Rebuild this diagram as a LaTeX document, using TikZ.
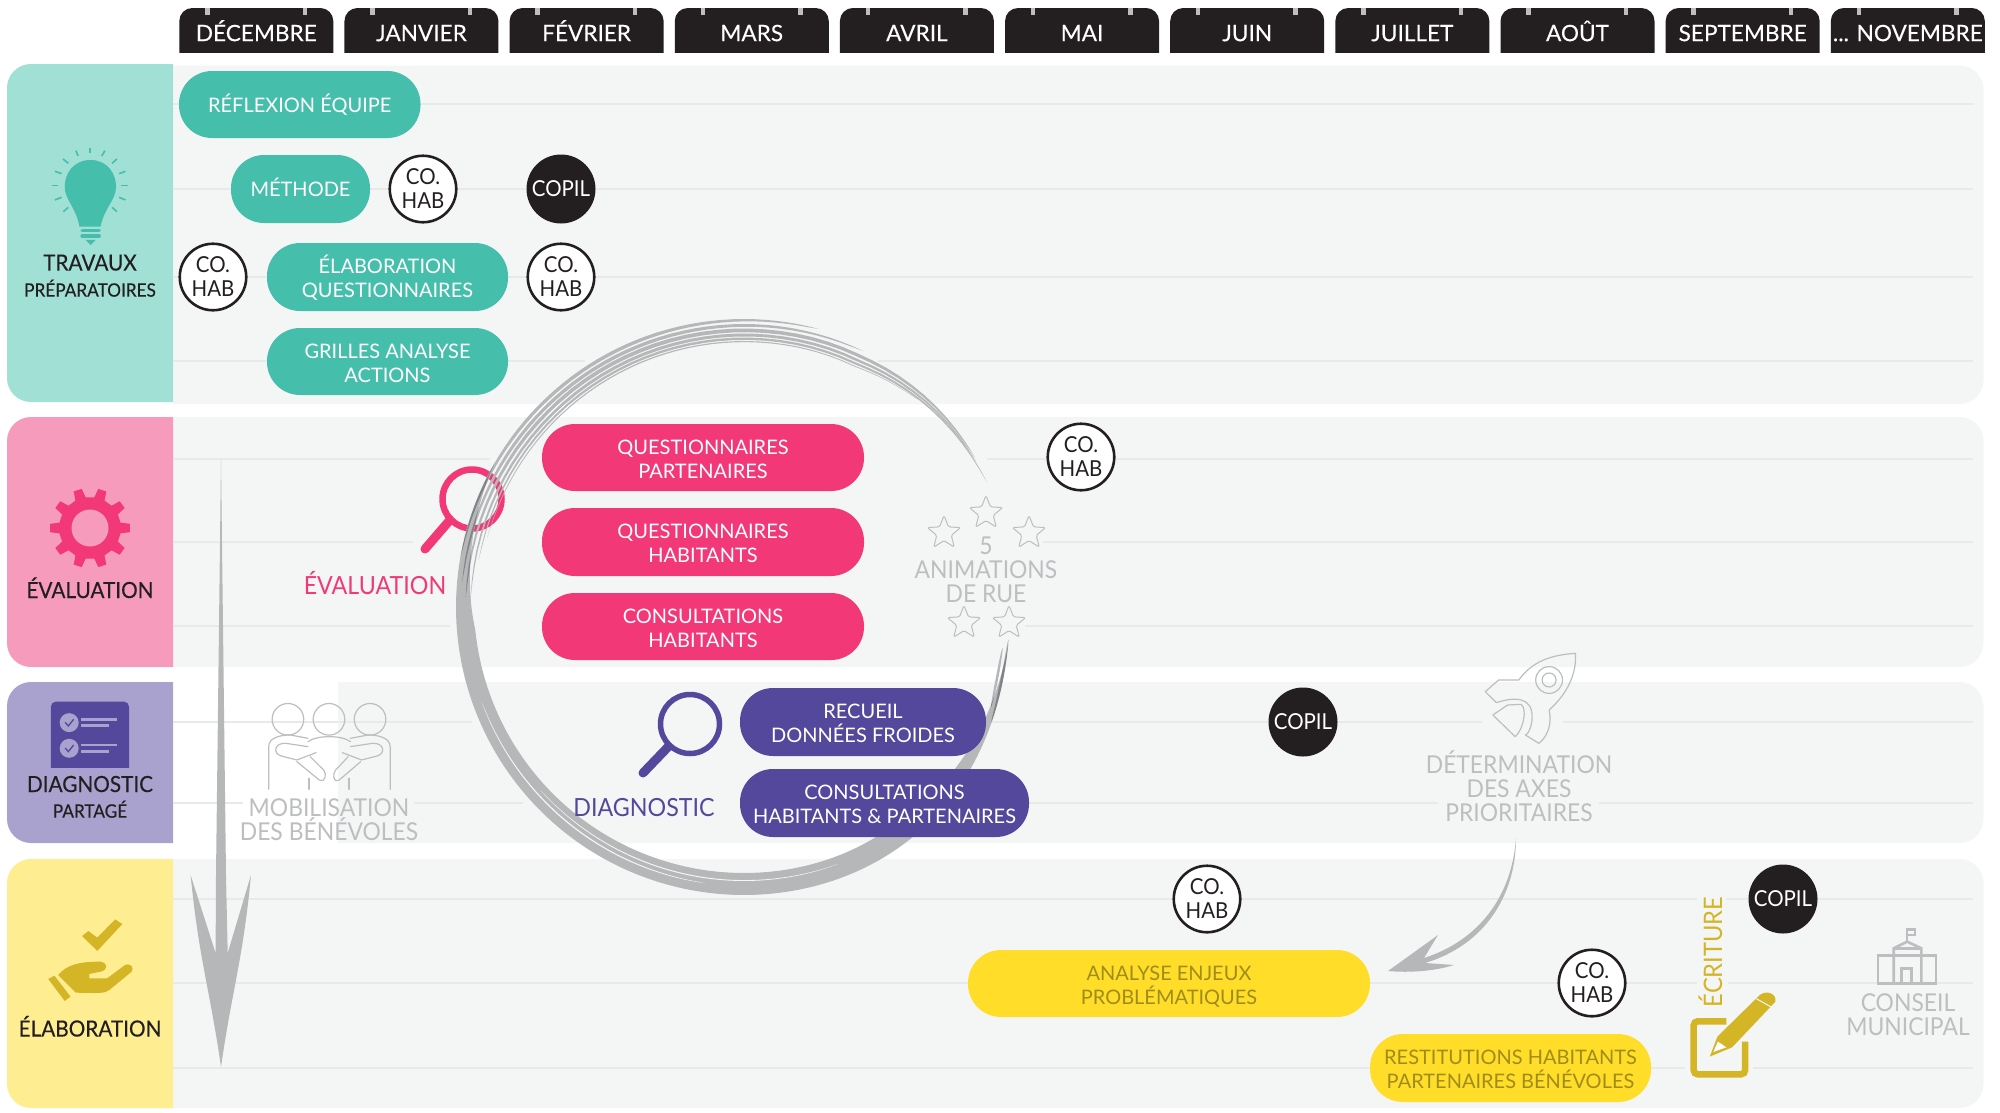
\documentclass[tikz,border=0pt]{standalone}
\usepackage{fontspec}
\setmainfont{Lato}
\newfontfamily\narrowf[FakeStretch=0.93]{Lato}
\newfontfamily\narrowb[FakeStretch=0.93,FakeBold=0.25]{Lato}
\newfontfamily\medf[FakeBold=0.2]{Lato}
\usetikzlibrary{shapes.geometric}
\definecolor{ink}{HTML}{231F20}
\definecolor{lane}{HTML}{F4F6F5}
\definecolor{rule}{HTML}{E8EAE9}
\definecolor{tealD}{HTML}{45BEAC}
\definecolor{tealL}{HTML}{A1E0D5}
\definecolor{pinkD}{HTML}{F23877}
\definecolor{pinkL}{HTML}{F69BBB}
\definecolor{purpD}{HTML}{54489D}
\definecolor{purpL}{HTML}{A9A2CE}
\definecolor{yelD}{HTML}{FFDD29}
\definecolor{yelL}{HTML}{FFED91}
\definecolor{gold}{HTML}{D4B526}
\definecolor{olive}{HTML}{A08C1C}
\definecolor{brush}{HTML}{B6B7B9}
\definecolor{ghost}{HTML}{BDBEC0}
\newcommand{\lastmonth}{... NOVEMBRE}
\tikzset{
  declare function={Rf(\t)=288-22*max(0,cos(\t))^4;},
  fs/.style n args={2}{font=\fontsize{#1}{#2}\selectfont},
  fsn/.style n args={2}{font=\narrowf\fontsize{#1}{#2}\selectfont},
  fsb/.style n args={2}{font=\narrowb\fontsize{#1}{#2}\selectfont},
  fsm/.style n args={2}{font=\medf\fontsize{#1}{#2}\selectfont},
  topstrut/.style={execute at begin node={\vrule width0pt height #1 depth 0pt}},
  capbox/.style={align=center,inner sep=0pt,outer sep=0pt,topstrut=.975em,
    execute at end node={\vrule width0pt height 0pt depth .255em}},
  blk/.style n args={2}{execute at begin node={\vrule width0pt height #1pt depth #2pt},execute at end node={}},
  two/.style={blk={51}{10}},
  ghostlabel/.style={capbox,text=ghost,fsn={24.6}{24},blk={53.8}{12}},
  ghostthree/.style={capbox,text=ghost,fsn={24.6}{24},blk={77.8}{12}},
  headlabel/.style={capbox,text=ink,fsb={22.3}{24}},
  headsmall/.style={capbox,text=ink,fsb={18.5}{22}},
  pillbase/.style={capbox,rounded corners=33pt,text=white,fs={20}{24}},
  roundm/.style={circle,minimum size=69pt,inner sep=0pt,capbox},
  cohab/.style={roundm,blk={44.2}{4.9},draw=ink,line width=2.6pt,fill=white,text=ink,fsn={22}{23.5},minimum size=66.5pt},
  copil/.style={roundm,fill=ink,text=white,fsn={22}{23}},
  rulel/.style={draw=rule,line width=1.6pt},
  astar/.style={star,star points=5,star point ratio=2.3,minimum size=35pt,inner sep=0pt,draw=ghost,line width=1pt,rounded corners=1.5pt},
  ghostline/.style={draw=ghost,line width=1.2pt,line join=round,line cap=round},
}
\newcommand{\lanebg}[3]{\begin{scope}\clip (#1,#2) rectangle (2000,#3);
  \fill[lane,rounded corners=24pt] (60,#2) rectangle (1983.5,#3);\end{scope}}
\newcommand{\lanehead}[3]{\begin{scope}\clip (0,#2) rectangle (173,#3);
  \fill[#1,rounded corners=24pt] (7,#2) rectangle (400,#3);\end{scope}}
\newcommand{\pill}[7]{\node[pillbase,#6,minimum width={(#4-#2)*1pt},minimum height={(#5-#3)*1pt}] (#1) at ({(#2+#4)/2},{(#3+#5)/2}) {#7};}
\newcommand{\brushlens}[4]{\fill plot[domain=#1:#2,samples=45] ({744+(Rf(\x)-#3*min(1,max(0,(\x-25)/40)))*cos(\x)},{607-(Rf(\x)-#3*min(1,max(0,(\x-25)/40)))*sin(\x)}) -- plot[domain=#2:#1,samples=45] ({744+(Rf(\x)-#3*min(1,max(0,(\x-25)/40))-#4*sqrt(abs(sin((\x-#1)/(#2-#1)*180))))*cos(\x)},{607-(Rf(\x)-#3*min(1,max(0,(\x-25)/40))-#4*sqrt(abs(sin((\x-#1)/(#2-#1)*180))))*sin(\x)}) -- cycle;}
\begin{document}
\begin{tikzpicture}[x=1pt,y=-1pt]
\useasboundingbox (0,0) rectangle (2000,1112);
\fill[white] (0,0) rectangle (2000,1112);
% lanes
\lanebg{173}{65.5}{404}
\lanebg{173}{417}{667}
\lanebg{338}{682}{843}
\lanebg{173}{859}{1108}
\lanehead{tealL}{64}{402}
\lanehead{pinkL}{417}{667}
\lanehead{purpL}{682}{843}
\lanehead{yelL}{859}{1108}
% rules
\foreach \a/\b/\yy in {173/1973/104,173/1973/189,173/1973/277,173/585/361,878/1973/361,
  173/490/459,987/1973/459,173/413/542,1043/1973/542,173/450/626,1025/1973/626,
  173/472/722,986/1482/722,1563/1973/722,173/243/803,414/523/803,1029/1438/803,1599/1973/803,
  173/1697/899,1726/1973/899,173/1697/983,1728/1973/983,173/1370/1068,1651/1685/1068,1753/1973/1068}
  {\draw[rulel] (\a,\yy) -- (\b,\yy);}
% months
\foreach \t [count=\i from 0] in {DÉCEMBRE,JANVIER,FÉVRIER,MARS,AVRIL,MAI,JUIN,JUILLET,AOÛT,SEPTEMBRE,\lastmonth}{
  \pgfmathsetmacro{\xl}{179.3+165.15*\i}
  \begin{scope}
    \clip (\xl,0) rectangle ({\xl+154},52);
    \fill[ink,rounded corners=13pt] (\xl,8) rectangle ({\xl+154},90);
    \draw[ghost,line width=4.5pt] ({\xl+28},8) -- ({\xl+28},14.5);
    \draw[ghost,line width=4.5pt] ({\xl+125.5},8) -- ({\xl+125.5},14.5);
  \end{scope}
  \node[capbox,text=white,fsm={22.6}{24}] (month\i) at ({\xl+77},33) {\t};
}
% hand-drawn circle
\coordinate (ringc) at (744,607);
% evaluation magnifier under the brush
\coordinate (evalc) at (472,499);
\coordinate (evalh) at (425,549);
\draw[pinkD,line width=9pt,line cap=round] (evalh) -- (450,520);
\draw[pinkD,line width=6.5pt] (evalc) circle (29.5);
\begin{scope}[blend group=multiply]
\begin{scope}[brush]
\fill[brush] plot[domain=150:352,samples=140] ({744+Rf(\x)*cos(\x)},{607-Rf(\x)*sin(\x)}) -- plot[domain=352:150,samples=140] ({744+(Rf(\x)-(18+4*max(0,sin(\x-180)))*min(1,(\x-150)/35)*min(1,(352-\x)/45))*cos(\x)},{607-(Rf(\x)-(18+4*max(0,sin(\x-180)))*min(1,(\x-150)/35)*min(1,(352-\x)/45))*sin(\x)}) -- cycle;
\brushlens{75}{170}{0}{3.4}
\brushlens{65}{175}{5}{3.4}
\brushlens{33}{178}{9.5}{3.8}
\brushlens{32}{178}{14.5}{3}
\brushlens{27}{170}{18.5}{2.4}
\brushlens{50}{165}{22}{1.2}
\brushlens{335}{353}{0}{2.5}
\brushlens{338}{351}{5}{2.5}
\end{scope}
\end{scope}
% white hairlines in the brush
\begin{scope}[lane]
\brushlens{200}{262}{9}{1.2}
\brushlens{222}{290}{14}{1}
\end{scope}
% vertical arrow
\coordinate (vtop) at (221,459);
\coordinate (vtip) at (221,1067);
\fill[brush] (vtop) -- (226,875) -- (227.7,953) -- (251,875) .. controls (243,960) and (232,990) .. (vtip)
  .. controls (210,990) and (199,960) .. (190.6,875) -- (215.6,953) -- (216,875) -- cycle;
% pills
\pill{reflexion}{179}{71}{420.5}{138}{fill=tealD,topstrut=1.1em}{RÉFLEXION ÉQUIPE}
\pill{methode}{231}{155}{370}{223}{fill=tealD}{MÉTHODE}
\pill{elab}{267}{243}{508}{311}{fill=tealD,two}{ÉLABORATION\\QUESTIONNAIRES}
\pill{grilles}{267}{328}{508}{395}{fill=tealD,two}{GRILLES ANALYSE\\ACTIONS}
\pill{qpart}{542}{424}{864}{491}{fill=pinkD,two}{QUESTIONNAIRES\\PARTENAIRES}
\pill{qhab}{542}{508}{864}{576}{fill=pinkD,two}{QUESTIONNAIRES\\HABITANTS}
\pill{chab}{542}{593}{864}{660}{fill=pinkD,two}{CONSULTATIONS\\HABITANTS}
\pill{recueil}{740}{688}{986}{756}{fill=purpD,two}{RECUEIL\\DONNÉES FROIDES}
\pill{chp}{740}{769}{1029}{837}{fill=purpD,two}{CONSULTATIONS\\HABITANTS \& PARTENAIRES}
\pill{analyse}{968}{950}{1370}{1017}{fill=yelD,text=olive,two}{ANALYSE ENJEUX\\PROBLÉMATIQUES}
\pill{restit}{1370}{1034}{1651}{1102}{fill=yelD,text=olive,two}{RESTITUTIONS HABITANTS\\PARTENAIRES BÉNÉVOLES}
% round markers
\node[cohab] (ch1) at (423,189) {CO.\\HAB};
\node[copil] (cp1) at (561,189) {COPIL};
\node[cohab] (ch2) at (213,277) {CO.\\HAB};
\node[cohab] (ch3) at (561,277) {CO.\\HAB};
\node[cohab] (ch4) at (1081,457) {CO.\\HAB};
\node[copil] (cp2) at (1303,722) {COPIL};
\node[cohab] (ch5) at (1207,899) {CO.\\HAB};
\node[cohab] (ch6) at (1592,983) {CO.\\HAB};
\node[copil] (cp3) at (1783,899) {COPIL};
% head labels
\node[headlabel] (l1) at (90,262.5) {TRAVAUX};
\node[headsmall] (l1b) at (90,290) {PRÉPARATOIRES};
\node[headlabel] (l2) at (90,590) {ÉVALUATION};
\node[headlabel] (l3) at (90,784) {DIAGNOSTIC};
\node[headsmall] (l3b) at (90,811) {PARTAGÉ};
\node[headlabel] (l4) at (90,1028.5) {ÉLABORATION};
% free labels
\node[capbox,text=pinkD,fsn={25}{26}] (evallabel) at (375,585) {ÉVALUATION};
\node[capbox,text=purpD,fsn={25}{26}] (diaglabel) at (644,807) {DIAGNOSTIC};
\node[ghostlabel] (mob) at (329,819.5) {MOBILISATION\\DES BÉNÉVOLES};
\node[ghostthree] (anim) at (986,569.5) {5\\ANIMATIONS\\DE RUE};
\node[ghostthree] (axes) at (1519,789) {DÉTERMINATION\\DES AXES\\PRIORITAIRES};
\node[ghostlabel] (conseil) at (1908,1015) {CONSEIL\\MUNICIPAL};
\node[capbox,text=gold,fsn={25.5}{26},rotate=90] (ecriture) at (1713,952) {ÉCRITURE};
% stars
\node[astar] (s1) at (986,513) {};
\node[astar] (s2) at (944,533) {};
\node[astar] (s3) at (1029,533) {};
\node[astar] (s4) at (964,623) {};
\node[astar] (s5) at (1009,623) {};
% diagnostic magnifier
\coordinate (diagc) at (690,724);
\draw[purpD,line width=9pt,line cap=round] (643,773) -- (668,747);
\draw[purpD,line width=5.5pt] (diagc) circle (29.5);
% curved arrow
\coordinate (cstart) at (1516,838);
\coordinate (ctip) at (1388,971);
\fill[brush] (cstart) .. controls (1512,895) and (1480,940) .. (1424,958)
  -- (1438,935) -- (ctip) .. controls (1410,973) and (1435,971) .. (1454,965)
  -- (1425,963) .. controls (1485,945) and (1516,895) .. (cstart) -- cycle;
% bulb
\begin{scope}[x=.4464pt,y=-.3333pt]
\fill[tealD] (203,480) .. controls (240,480) and (260,520) .. (260,560) .. controls (260,600) and (235,620) .. (225,680)
  -- (178,680) .. controls (170,620) and (145,600) .. (145,560) .. controls (145,520) and (165,480) .. (203,480) -- cycle;
\draw[tealD,line width=3.5pt,line cap=round] (184,692) -- (222,692);
\draw[tealD,line width=3.5pt,line cap=round] (184,708) -- (222,708);
\fill[tealD] (192,720) -- (214,720) -- (203,735) -- cycle;
\foreach \a/\b/\c/\d in {201/445/201/460,170/452/175/468,235/452/228/468,141/477/153/490,262/477/251/490,
  123/514/138/521,281/514/267/521,117/556/131/556,287/556/272/556,123/600/138/592,281/600/267/592,142/635/153/622,262/635/251/622}
  {\draw[tealD,line width=1.6pt] (\a,\b) -- (\c,\d);}
\end{scope}
% gear
\begin{scope}[shift={(90,528)}]
\fill[pinkD] (-10:31) \foreach \a in {0,36,...,324}{ -- (\a-10:31) -- (\a-6:40) -- (\a+6:40) -- (\a+10:31) -- (\a+26:31)} -- cycle;
\fill[pinkL] (0,0) circle (18.5);
\end{scope}
% checklist
\begin{scope}[shift={(0,400)},x=.4464pt,y=-.3333pt]
\begin{scope}
\clip (100,890) rectangle (300,1102);
\fill[purpD,rounded corners=5pt] (114,905) rectangle (289,1130);
\end{scope}
\foreach \yy in {968,1045}{
  \fill[purpL] (155,\yy) ellipse (9.5pt and 9.5pt);
  \draw[purpD,line width=1.3pt] (146,{\yy-1}) -- (153,{\yy+10}) -- (165,{\yy-10});
  \draw[purpL,line width=2.6pt] (182,{\yy-10}) -- (262,{\yy-10});
  \draw[purpL,line width=2.6pt] (182,{\yy+9}) -- (245,{\yy+9});
}
\end{scope}
% hand
\begin{scope}[shift={(0,800)},x=.4464pt,y=-.3333pt]
\fill[gold] (184,408) -- (198,393) -- (218,413) -- (258,358) -- (274,372) -- (218,453) -- cycle;
\fill[gold] (108,537) -- (122,527) -- (158,590) -- (145,603) -- cycle;
\fill[gold] (130,525) .. controls (150,495) and (175,485) .. (225,485) .. controls (245,490) and (240,512) .. (225,515)
  -- (200,522) -- (200,535) -- (240,535) -- (280,495) .. controls (295,488) and (300,505) .. (295,515)
  -- (245,570) .. controls (235,580) and (225,580) .. (170,578) -- cycle;
\end{scope}
% people
\begin{scope}[shift={(0,400)},x=.4464pt,y=-.3333pt,ghostline]
\draw (645,958) ellipse (15.8pt and 15.8pt);
\draw (737,958) ellipse (15.8pt and 15.8pt);
\draw (829,958) ellipse (15.8pt and 15.8pt);
\draw (602,1168) -- (602,1040) .. controls (602,1015) and (625,1005) .. (650,1005) -- (690,1015);
\draw (874,1168) -- (874,1040) .. controls (874,1015) and (850,1005) .. (825,1005) -- (785,1015);
\draw (690,1025) .. controls (710,1005) and (765,1005) .. (785,1025);
\draw (690,1040) -- (640,1030) .. controls (615,1028) and (610,1060) .. (630,1068) -- (665,1080) -- (708,1058);
\draw (785,1040) -- (835,1030) .. controls (860,1028) and (865,1060) .. (845,1068) -- (810,1080) -- (767,1058);
\draw (665,1085) -- (715,1140) .. controls (730,1150) and (732,1120) .. (725,1110) -- (695,1070);
\draw (808,1085) -- (760,1140) .. controls (745,1150) and (745,1120) .. (752,1110) -- (780,1070);
\draw (692,1135) -- (692,1168);
\draw (782,1135) -- (782,1168);
\end{scope}
% rocket
\begin{scope}[shift={(1300,640)},x=.4464pt,y=-.3333pt,ghostline]
\draw (617,40) .. controls (560,45) and (520,65) .. (490,120) -- (445,120) -- (415,155) -- (440,188)
  .. controls (480,170) and (520,170) .. (520,230) .. controls (520,260) and (510,285) .. (505,285)
  -- (535,310) .. controls (555,290) and (565,250) .. (558,210) .. controls (600,160) and (620,100) .. (617,40) -- cycle;
\draw (432,225) -- (465,195) -- (495,193) .. controls (510,205) and (500,270) .. (482,290) -- cycle;
\draw (558,120) ellipse (13.4pt and 13.4pt);
\draw (558,120) ellipse (7pt and 7pt);
\end{scope}
% town hall
\begin{scope}[shift={(1300,640)},x=.4464pt,y=-.3333pt,draw=ghost,line width=2.6pt]
\draw (1295,1030) -- (1295,947) -- (1425,947) -- (1425,1030) -- cycle;
\draw (1330,1030) -- (1330,925) -- (1360,905) -- (1392,925) -- (1392,1030);
\draw (1330,925) -- (1392,925);
\draw (1347,1030) -- (1347,985) -- (1370,985) -- (1370,1030);
\draw (1360,905) -- (1360,868) -- (1378,868) -- (1378,885) -- (1360,885);
\end{scope}
% pencil
\begin{scope}[shift={(1300,640)},x=.4464pt,y=-.3333pt]
\draw[gold,line width=6.5pt,rounded corners=4pt] (955,1144) -- (882,1144) -- (882,1303) -- (997,1303) -- (997,1205);
\fill[gold] (918,1250) -- (935,1190) -- (1030,1065) .. controls (1045,1050) and (1068,1060) .. (1065,1085) -- (968,1222) -- cycle;
\fill[white] (926,1236) -- (936,1205) -- (955,1222) -- cycle;
\draw[lane,line width=1pt] (1022,1076) -- (1058,1103);
\end{scope}
\end{tikzpicture}
\end{document}
